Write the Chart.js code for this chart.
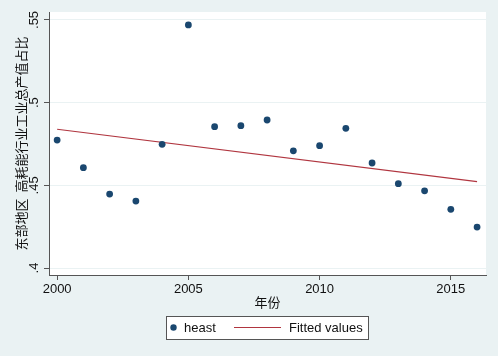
<!DOCTYPE html>
<html>
<head>
<meta charset="utf-8">
<script src="https://cdn.jsdelivr.net/npm/chart.js@4.4.1/dist/chart.umd.min.js"></script>
<style>
  html, body { margin: 0; padding: 0; background: #eaf2f3; }
  canvas { display: block; }
</style>
</head>
<body>
<canvas id="chart" width="498" height="356"></canvas>
<script>
// données
const years = [2000, 2001, 2002, 2003, 2004, 2005, 2006, 2007, 2008, 2009, 2010, 2011, 2012, 2013, 2014, 2015, 2016];
const heast = [0.4774, 0.4607, 0.4447, 0.4405, 0.4748, 0.547, 0.4855, 0.4861, 0.4895, 0.4709, 0.474, 0.4845, 0.4635, 0.451, 0.4467, 0.4355, 0.4248];
const fitYears = [2000, 2016];
const fitValues = [0.4839, 0.4522];
const xTicks = [2000, 2005, 2010, 2015];
const yTicks = [0.4, 0.45, 0.5, 0.55];
const yTickLabels = ['.4', '.45', '.5', '.55'];

const outerBg = '#eaf2f3';
const navy = '#1a476f';
const maroon = '#b0353f';
const axisColor = '#555555';
const latin = '"Liberation Sans", Arial, sans-serif';
const cjk = '"Noto Sans CJK SC", sans-serif';

// fond du graphique et zone blanche
const backgroundPlugin = {
    id: 'stataBg',
    beforeDraw(chart) {
        const ctx = chart.ctx;
        const a = chart.chartArea;
        ctx.save();
        ctx.fillStyle = outerBg;
        ctx.fillRect(0, 0, chart.width, chart.height);
        ctx.fillStyle = '#ffffff';
        ctx.fillRect(a.left, a.top, a.right - a.left, a.bottom - a.top);
        ctx.restore();
    }
};

// légende encadrée en bas
const legendPlugin = {
    id: 'boxLegend',
    afterDraw(chart) {
        const ctx = chart.ctx;
        const box = { x: 166, y: 316, w: 202, h: 23 };
        const cy = box.y + box.h / 2;
        ctx.save();
        ctx.fillStyle = '#ffffff';
        ctx.fillRect(box.x, box.y, box.w, box.h);
        ctx.strokeStyle = axisColor;
        ctx.lineWidth = 1;
        ctx.strokeRect(box.x + 0.5, box.y + 0.5, box.w, box.h);

        ctx.fillStyle = navy;
        ctx.beginPath();
        ctx.arc(173.5, cy, 3.2, 0, Math.PI * 2);
        ctx.fill();

        ctx.strokeStyle = maroon;
        ctx.lineWidth = 1.2;
        ctx.beginPath();
        ctx.moveTo(234, cy);
        ctx.lineTo(281, cy);
        ctx.stroke();

        ctx.fillStyle = '#111111';
        ctx.font = '13px ' + latin;
        ctx.textBaseline = 'middle';
        ctx.textAlign = 'left';
        ctx.fillText(chart.data.datasets[0].label, 184, cy + 1);
        ctx.fillText(chart.data.datasets[1].label, 289, cy + 1);
        ctx.restore();
    }
};

new Chart(document.getElementById('chart').getContext('2d'), {
    type: 'scatter',
    data: {
        datasets: [
            {
                label: 'heast',
                data: years.map((y, i) => ({ x: y, y: heast[i] })),
                backgroundColor: navy,
                borderColor: navy,
                pointRadius: 3.4,
                pointHoverRadius: 3.4,
                borderWidth: 0
            },
            {
                type: 'line',
                label: 'Fitted values',
                data: fitYears.map((y, i) => ({ x: y, y: fitValues[i] })),
                borderColor: maroon,
                borderWidth: 1.2,
                pointRadius: 0,
                fill: false
            }
        ]
    },
    options: {
        responsive: false,
        animation: false,
        devicePixelRatio: 1,
        layout: {
            padding: { top: 12, right: 12, bottom: 0, left: 0 }
        },
        plugins: {
            legend: { display: false },
            tooltip: { enabled: false }
        },
        scales: {
            x: {
                type: 'linear',
                min: 1999.69,
                max: 2016.34,
                afterBuildTicks: function(scale) {
                    scale.ticks = xTicks.map(v => ({ value: v }));
                },
                afterFit: function(scale) {
                    scale.height = 81;
                },
                border: { display: true, color: axisColor, width: 1 },
                grid: {
                    drawOnChartArea: false,
                    drawTicks: true,
                    tickLength: 5,
                    tickColor: axisColor
                },
                ticks: {
                    padding: 2,
                    color: '#111111',
                    font: { family: latin, size: 13 },
                    maxRotation: 0,
                    callback: function(value) {
                        return String(value);
                    }
                },
                title: {
                    display: true,
                    text: '年份',
                    color: '#111111',
                    font: { family: cjk, size: 13 },
                    padding: { top: 0, bottom: 46 }
                }
            },
            y: {
                type: 'linear',
                min: 0.3958,
                max: 0.5548,
                afterBuildTicks: function(scale) {
                    scale.ticks = yTicks.map(v => ({ value: v }));
                },
                afterFit: function(scale) {
                    scale.width = 49;
                },
                border: { display: true, color: axisColor, width: 1 },
                grid: {
                    color: outerBg,
                    lineWidth: 1,
                    drawTicks: true,
                    tickLength: 5,
                    tickColor: axisColor
                },
                ticks: {
                    minRotation: 90,
                    maxRotation: 90,
                    crossAlign: 'center',
                    padding: 1,
                    color: '#111111',
                    font: { family: latin, size: 13 },
                    callback: function(value) {
                        const i = yTicks.indexOf(value);
                        return i >= 0 ? yTickLabels[i] : '';
                    }
                },
                title: {
                    display: true,
                    text: '东部地区  高耗能行业工业总产值占比',
                    color: '#111111',
                    font: { family: cjk, size: 13 },
                    padding: { top: 13, bottom: 0 }
                }
            }
        }
    },
    plugins: [backgroundPlugin, legendPlugin]
});
</script>
</body>
</html>
